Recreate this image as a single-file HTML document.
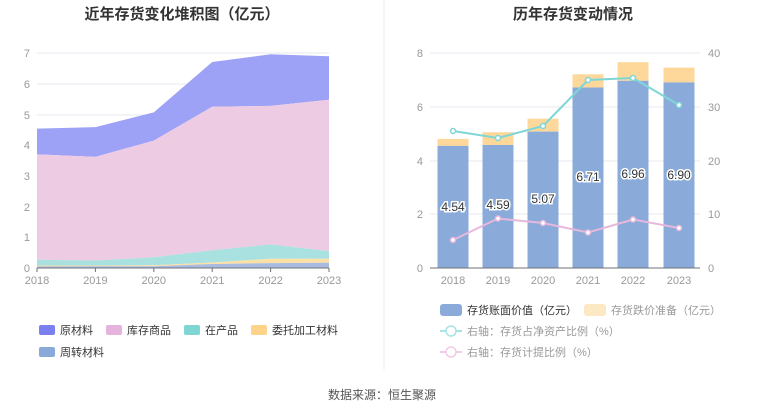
<!DOCTYPE html>
<html><head><meta charset="utf-8"><style>
body{margin:0;background:#fff;}
svg text{font-family:"Liberation Sans","Noto Sans CJK SC",sans-serif;}
</style></head><body>
<svg width="765" height="413" viewBox="0 0 765 413" xmlns="http://www.w3.org/2000/svg">
<rect width="765" height="413" fill="#fff"/>
<line x1="384" y1="0" x2="384" y2="370" stroke="#eee"/>
<text x="182" y="19" font-size="15" font-weight="bold" text-anchor="middle" fill="#333">近年存货变化堆积图（亿元）</text>
<text x="573" y="19" font-size="15" font-weight="bold" text-anchor="middle" fill="#333">历年存货变动情况</text>
<!-- left grid -->
<g stroke="#e6e8f2" stroke-width="1">
<line x1="37" x2="329" y1="53" y2="53"/><line x1="37" x2="329" y1="84" y2="84"/><line x1="37" x2="329" y1="115" y2="115"/><line x1="37" x2="329" y1="145" y2="145"/><line x1="37" x2="329" y1="176" y2="176"/><line x1="37" x2="329" y1="207" y2="207"/><line x1="37" x2="329" y1="237" y2="237"/>
</g>
<g font-size="11" fill="#999" text-anchor="end">
<text x="30" y="272">0</text><text x="30" y="241">1</text><text x="30" y="211">2</text><text x="30" y="180">3</text><text x="30" y="149">4</text><text x="30" y="119">5</text><text x="30" y="88">6</text><text x="30" y="57">7</text>
</g>
<!-- areas: x 37,95.4,153.8,212.2,270.6,329 ; y=268-30.7v -->
<polygon fill="#9ea2f6" points="37,128.6 95.4,127.1 153.8,112.4 212.2,62 270.6,54.3 329,56.2 329,99.8 270.6,105.9 212.2,106.8 153.8,140.6 95.4,156.9 37,154.4"/>
<polygon fill="#edcbe3" points="37,154.4 95.4,156.9 153.8,140.6 212.2,106.8 270.6,105.9 329,99.8 329,251.1 270.6,244.4 212.2,250.2 153.8,257.3 95.4,260.6 37,259.7"/>
<polygon fill="#a8e1df" points="37,259.7 95.4,260.6 153.8,257.3 212.2,250.2 270.6,244.4 329,251.1 329,258.8 270.6,258.8 212.2,262.5 153.8,265.2 95.4,265.5 37,265.5"/>
<polygon fill="#fde0a6" points="37,265.5 95.4,265.5 153.8,265.2 212.2,262.5 270.6,258.8 329,258.8 329,262.8 270.6,263.1 212.2,264 153.8,266.2 95.4,266.2 37,266.5"/>
<polygon fill="#a9bbe0" points="37,266.5 95.4,266.2 153.8,266.2 212.2,264 270.6,263.1 329,262.8 329,268 37,268"/>
<line x1="37" x2="329" y1="268" y2="268" stroke="#6e7079"/>
<g stroke="#6e7079"><line x1="37" x2="37" y1="268" y2="272"/><line x1="95.4" x2="95.4" y1="268" y2="272"/><line x1="153.8" x2="153.8" y1="268" y2="272"/><line x1="212.2" x2="212.2" y1="268" y2="272"/><line x1="270.6" x2="270.6" y1="268" y2="272"/><line x1="329" x2="329" y1="268" y2="272"/></g>
<g font-size="11" fill="#999" text-anchor="middle">
<text x="37" y="284">2018</text><text x="95.4" y="284">2019</text><text x="153.8" y="284">2020</text><text x="212.2" y="284">2021</text><text x="270.6" y="284">2022</text><text x="329" y="284">2023</text>
</g>
<!-- left legend -->
<g font-size="11" fill="#333">
<rect x="39" y="325" width="16" height="10" rx="2" fill="#7b7ff0"/><text x="60" y="334">原材料</text>
<rect x="106" y="325" width="16" height="10" rx="2" fill="#e6b3dc"/><text x="127" y="334">库存商品</text>
<rect x="184" y="325" width="16" height="10" rx="2" fill="#7fd6d3"/><text x="205" y="334">在产品</text>
<rect x="251" y="325" width="16" height="10" rx="2" fill="#fdd48a"/><text x="272" y="334">委托加工材料</text>
<rect x="39" y="347" width="16" height="10" rx="2" fill="#8aa9db"/><text x="60" y="356">周转材料</text>
</g>
<!-- right chart -->
<g stroke="#e6e8f2"><line x1="430" x2="700" y1="53" y2="53"/><line x1="430" x2="700" y1="107" y2="107"/><line x1="430" x2="700" y1="161" y2="161"/><line x1="430" x2="700" y1="214" y2="214"/></g>
<g font-size="11" fill="#999" text-anchor="end"><text x="423" y="272">0</text><text x="423" y="218">2</text><text x="423" y="165">4</text><text x="423" y="111">6</text><text x="423" y="57">8</text></g>
<g font-size="11" fill="#999" text-anchor="start"><text x="708" y="272">0</text><text x="708" y="218">10</text><text x="708" y="165">20</text><text x="708" y="111">30</text><text x="708" y="57">40</text></g>
<!-- bars: h=26.9/unit -->
<g fill="#fdd89a">
<rect x="437.5" y="138.9" width="31" height="7"/><rect x="482.5" y="132.2" width="31" height="12.8"/><rect x="527.5" y="118.7" width="31" height="12.9"/><rect x="572.5" y="74.3" width="31" height="13.2"/><rect x="617.5" y="62.2" width="31" height="18.6"/><rect x="663.5" y="67.6" width="31" height="14.8"/>
</g>
<g fill="#8aabd9">
<rect x="437.5" y="145.9" width="31" height="122.1"/><rect x="482.5" y="145" width="31" height="123"/><rect x="527.5" y="131.6" width="31" height="136.4"/><rect x="572.5" y="87.5" width="31" height="180.5"/><rect x="617.5" y="80.8" width="31" height="187.2"/><rect x="663.5" y="82.4" width="31" height="185.6"/>
</g>
<line x1="430" x2="700" y1="268" y2="268" stroke="#6e7079"/>
<g font-size="11" fill="#999" text-anchor="middle"><text x="453" y="284">2018</text><text x="498" y="284">2019</text><text x="543" y="284">2020</text><text x="588" y="284">2021</text><text x="633" y="284">2022</text><text x="679" y="284">2023</text></g>
<g font-size="12" fill="#333" text-anchor="middle" stroke="#fff" stroke-width="3" paint-order="stroke">
<text x="453" y="211">4.54</text><text x="498" y="209">4.59</text><text x="543" y="203">5.07</text><text x="588" y="181">6.71</text><text x="633" y="178">6.96</text><text x="679" y="179">6.90</text>
</g>
<polyline fill="none" stroke="#7fd6d6" stroke-width="2" points="453,131 498,138 543,126 588,80 633,78 679,105"/>
<polyline fill="none" stroke="#e8b8dc" stroke-width="2" points="453,240 498,218.5 543,223 588,232.5 633,219.5 679,228"/>
<g fill="#fff" stroke="#7fd6d6" stroke-width="1.5"><circle cx="453" cy="131" r="2.5"/><circle cx="498" cy="138" r="2.5"/><circle cx="543" cy="126" r="2.5"/><circle cx="588" cy="80" r="2.5"/><circle cx="633" cy="78" r="2.5"/><circle cx="679" cy="105" r="2.5"/></g>
<g fill="#fff" stroke="#e8b8dc" stroke-width="1.5"><circle cx="453" cy="240" r="2.5"/><circle cx="498" cy="218.5" r="2.5"/><circle cx="543" cy="223" r="2.5"/><circle cx="588" cy="232.5" r="2.5"/><circle cx="633" cy="219.5" r="2.5"/><circle cx="679" cy="228" r="2.5"/></g>
<!-- right legend -->
<g font-size="11">
<rect x="440" y="304" width="22" height="12" rx="3" fill="#8aabd9"/><text x="467" y="314" fill="#333">存货账面价值（亿元）</text>
<rect x="584" y="304" width="22" height="12" rx="3" fill="#fde8c4"/><text x="611" y="314" fill="#999">存货跌价准备（亿元）</text>
<line x1="440" x2="462" y1="331" y2="331" stroke="#a8e4e4" stroke-width="2"/><circle cx="451" cy="331" r="5" fill="#fff" stroke="#a8e4e4" stroke-width="1.5"/><text x="467" y="335" fill="#999">右轴：存货占净资产比例（%）</text>
<line x1="440" x2="462" y1="352" y2="352" stroke="#f0cde6" stroke-width="2"/><circle cx="451" cy="352" r="5" fill="#fff" stroke="#f0cde6" stroke-width="1.5"/><text x="467" y="356" fill="#999">右轴：存货计提比例（%）</text>
</g>
<text x="382" y="399" font-size="12" fill="#555" text-anchor="middle">数据来源：恒生聚源</text>
</svg>
</body></html>
